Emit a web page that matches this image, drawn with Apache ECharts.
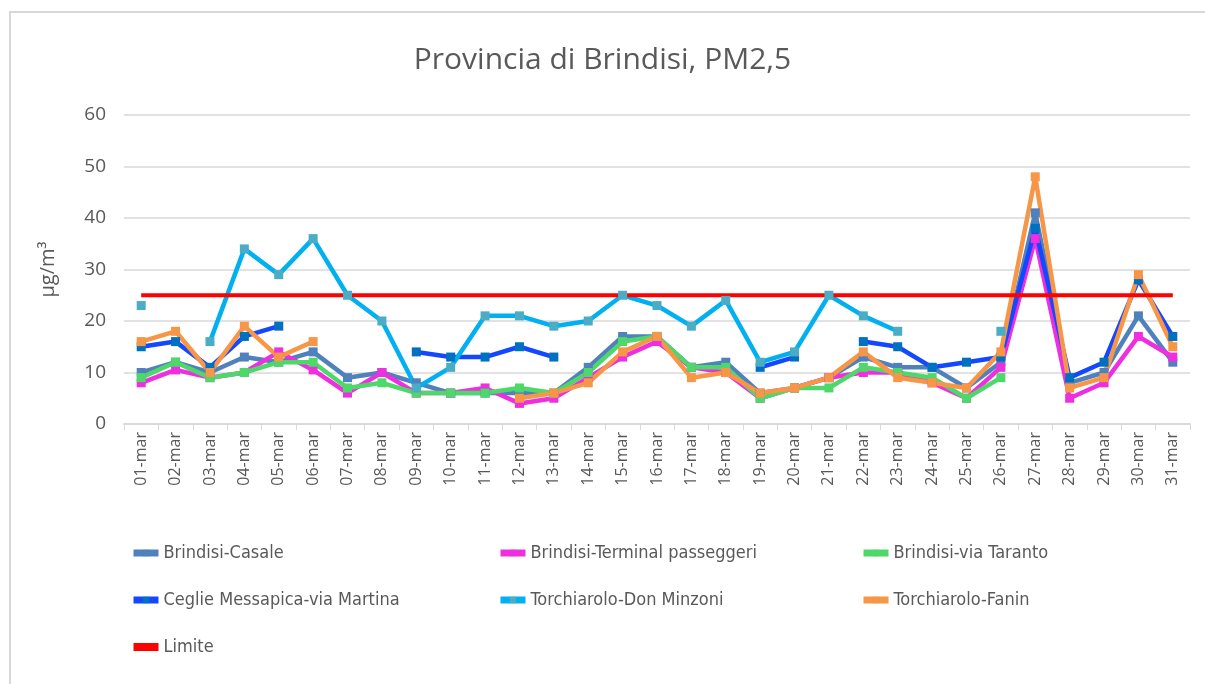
<!DOCTYPE html>
<html>
<head>
<meta charset="utf-8">
<script src="https://cdn.jsdelivr.net/npm/echarts@6/dist/echarts.min.js"></script>
<style>
  html, body { margin: 0; padding: 0; background: #fff; }
  #chart { width: 1205px; height: 684px; }
</style>
</head>
<body>
<div id="chart"></div>
<script>
var days = ['01-mar','02-mar','03-mar','04-mar','05-mar','06-mar','07-mar','08-mar','09-mar','10-mar',
  '11-mar','12-mar','13-mar','14-mar','15-mar','16-mar','17-mar','18-mar','19-mar','20-mar',
  '21-mar','22-mar','23-mar','24-mar','25-mar','26-mar','27-mar','28-mar','29-mar','30-mar','31-mar'];

var casale = [10,12,10,13,12,14,9,10,8,6,6,6,6,11,17,17,11,12,6,7,9,13,11,11,7,12,41,8,10,21,12];
var terminal = [8,10.5,9,10,14,10.5,6,10,6,6,7,4,5,9,13,16,11,10,5,7,9,10,10,8,5,11,36,5,8,17,13];
var viaTaranto = [9,12,9,10,12,12,7,8,6,6,6,7,6,10,16,17,11,11,5,7,7,11,10,9,5,9,null,null,null,null,null];
var ceglie = [15,16,11,17,19,null,null,null,14,13,13,15,13,null,null,null,null,null,11,13,null,16,15,11,12,13,38,9,12,28,17];
var donMinzoni = [23,null,16,34,29,36,25,20,7,11,21,21,19,20,25,23,19,24,12,14,25,21,18,null,null,18,null,null,null,null,null];
var fanin = [16,18,10,19,13,16,null,null,null,null,null,5,6,8,14,17,9,10,6,7,9,14,9,8,7,14,48,7,9,29,15];
var limite = [25,25,25,25,25,25,25,25,25,25,25,25,25,25,25,25,25,25,25,25,25,25,25,25,25,25,25,25,25,25,25];

var yTicks = [0, 60, 10]; // min, max, interval

var txt = '#595959';
var font = "'Open Sans', 'Noto Sans', sans-serif";
var narrow = "'Liberation Sans Narrow', 'DejaVu Sans Condensed', 'Open Sans', sans-serif";

function lineSeries(name, data, lineColor, markColor) {
  return {
    name: name,
    type: 'line',
    data: data,
    symbol: 'rect',
    symbolSize: 9,
    showSymbol: true,
    showAllSymbol: true,
    connectNulls: false,
    lineStyle: { color: lineColor, width: 4.5 },
    itemStyle: { color: markColor },
    emphasis: { disabled: true }
  };
}

function legendCol(left, items) {
  return {
    orient: 'vertical',
    left: left,
    top: 543,
    padding: 0,
    itemWidth: 25,
    itemHeight: 8,
    itemGap: 27,
    data: items,
    lineStyle: { width: 7 },
    textStyle: { color: txt, fontSize: 18, fontFamily: narrow, lineHeight: 20 }
  };
}

var chart = echarts.init(document.getElementById('chart'), null, { renderer: 'canvas' });
chart.setOption({
  animation: false,
  backgroundColor: '#fff',
  title: {
    text: 'Provincia di Brindisi, PM2,5',
    left: 'center',
    top: 40,
    textStyle: { color: txt, fontSize: 30, fontWeight: 'normal', fontFamily: font }
  },
  graphic: [{
    type: 'rect',
    shape: { x: 10, y: 12, width: 1210, height: 700 },
    style: { fill: 'none', stroke: '#d9d9d9', lineWidth: 2 },
    silent: true
  }],
  legend: [
    legendCol(130, ['Brindisi-Casale', 'Ceglie Messapica-via Martina', { name: 'Limite', icon: 'rect' }]),
    legendCol(497, ['Brindisi-Terminal passeggeri', 'Torchiarolo-Don Minzoni']),
    legendCol(860, ['Brindisi-via Taranto', 'Torchiarolo-Fanin'])
  ],
  grid: { left: 124, right: 15, top: 115, bottom: 260 },
  xAxis: {
    type: 'category',
    data: days,
    boundaryGap: true,
    axisLine: { lineStyle: { color: '#d9d9d9', width: 2 } },
    axisTick: { show: true, length: 6, lineStyle: { color: '#d9d9d9', width: 1 } },
    axisLabel: { rotate: 90, interval: 0, color: txt, fontSize: 16, fontFamily: font, margin: 8 }
  },
  yAxis: {
    type: 'value',
    min: yTicks[0],
    max: yTicks[1],
    interval: yTicks[2],
    name: 'µg/m³',
    nameLocation: 'middle',
    nameGap: 66,
    nameRotate: 90,
    nameTextStyle: { color: txt, fontSize: 20, fontFamily: font },
    axisLine: { show: false },
    axisTick: { show: false },
    axisLabel: { color: txt, fontSize: 19, fontFamily: font, margin: 18 },
    splitLine: { lineStyle: { color: '#d9d9d9', width: 1.5 } }
  },
  series: [
    lineSeries('Brindisi-Casale', casale, '#4f81bd', '#4f81bd'),
    lineSeries('Brindisi-Terminal passeggeri', terminal, '#ee2fe0', '#ee2fe0'),
    lineSeries('Brindisi-via Taranto', viaTaranto, '#4fd86a', '#4fd86a'),
    lineSeries('Ceglie Messapica-via Martina', ceglie, '#1448ff', '#0070c0'),
    lineSeries('Torchiarolo-Don Minzoni', donMinzoni, '#00b0f0', '#4bacc6'),
    lineSeries('Torchiarolo-Fanin', fanin, '#f79646', '#f79646'),
    {
      name: 'Limite',
      type: 'line',
      data: limite,
      symbol: 'none',
      lineStyle: { color: '#ff0000', width: 4 },
      itemStyle: { color: '#ff0000' },
      emphasis: { disabled: true }
    }
  ]
});
</script>
</body>
</html>
